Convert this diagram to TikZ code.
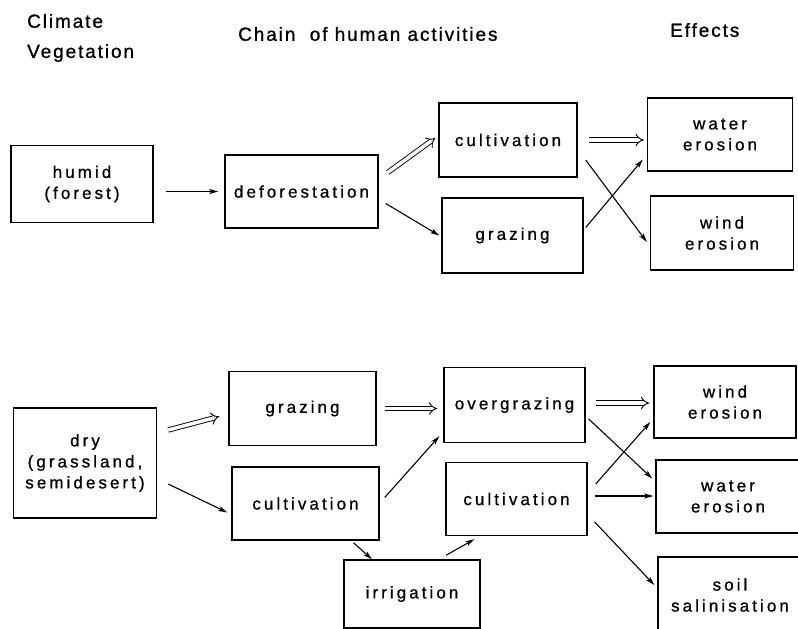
\documentclass[tikz,border=0pt]{standalone}
\usepackage{fontspec}
\usetikzlibrary{arrows.meta}
\newfontfamily\boxfont{Liberation Sans}[LetterSpace=18,FakeBold=0.8]
\newfontfamily\headfont{Liberation Sans}[LetterSpace=10,FakeBold=1]
\begin{document}
\begin{tikzpicture}[x=1pt,y=-1pt]
\tikzstyle{box}=[draw,line width=1.4pt,inner sep=0pt,align=center,minimum height=74pt,font=\boxfont\fontsize{17}{21}\selectfont]
\tikzstyle{head}=[anchor=west,inner sep=0pt,font=\headfont\fontsize{19}{22}\selectfont]
\tikzstyle{arr}=[line width=1.1pt,-{Stealth[length=9pt,width=5pt,inset=2pt]}]
\tikzstyle{dbl}=[double,line width=0.9pt,double distance=3.5pt,-{Implies[length=6pt,width=11pt]}]
\useasboundingbox (0,0) rectangle (798,629);

\path (27,21) node[head](hclim){Climate} (27,53) node[head](hveg){Vegetation}
 (238,34) node[head](hchain){Chain\ \ of human activities} (670,30) node[head](heff){Effects};

\path (82,184) node[box,minimum width=142pt,minimum height=77pt](humid){humid\\(forest)}
 (301.5,191.5) node[box,minimum width=153pt,minimum height=73pt](defor){deforestation}
 (508,140) node[box,minimum width=138pt](cultT){cultivation}
 (512.5,235.5) node[box,minimum width=141pt,minimum height=75pt](grazT){grazing}
 (720,134.5) node[box,minimum width=145pt,minimum height=73pt](waterT){water\\erosion}
 (722,233) node[box,minimum width=143pt](windT){wind\\erosion};

\path (85,463) node[box,minimum width=143pt,minimum height=110pt](dry){dry\\(grassland,\\semidesert)}
 (302.5,408.5) node[box,minimum width=147pt](grazB){grazing}
 (305.5,503.5) node[box,minimum width=147pt,minimum height=73pt](cultB){cultivation}
 (514.5,405) node[box,minimum width=141pt,minimum height=75pt](overg){overgrazing}
 (516.5,499) node[box,minimum width=141pt,minimum height=73pt](cultR){cultivation}
 (412,594) node[box,minimum width=136pt,minimum height=68pt](irrig){irrigation}
 (725,402) node[box,minimum width=142pt,minimum height=72pt](windB){wind\\erosion}
 (728,496.5) node[box,minimum width=144pt,minimum height=73pt](waterB){water\\erosion}
 (730,595) node[box,minimum width=144pt,minimum height=76pt](soil){soil\\salinisation};

\draw[arr,shorten <=12pt,shorten >=6pt] (humid.east |- defor) -- (defor);
\draw[dbl] ([xshift=9pt,yshift=19pt]defor.east) -- ([xshift=-3pt,yshift=2pt]cultT.west);
\draw[arr] ([xshift=7pt,yshift=-12pt]defor.east) -- ([xshift=-2pt]grazT.west);
\draw[dbl,shorten <=11pt,shorten >=3pt] (cultT.east) -- (cultT.east -| waterT.west);
\draw[arr] ([xshift=8pt,yshift=-20pt]cultT.east) -- ([xshift=-3pt,yshift=-9pt]windT.west);
\draw[arr] ([xshift=2pt,yshift=8pt]grazT.east) -- ([xshift=-4pt,yshift=-25pt]waterT.west);

\draw[dbl] ([xshift=11pt,yshift=33pt]dry.east) -- ([xshift=-9pt,yshift=-8pt]grazB.west);
\draw[arr] ([xshift=11pt,yshift=-21pt]dry.east) -- ([xshift=-4pt,yshift=-9pt]cultB.west);
\draw[dbl,shorten <=8pt,shorten >=6pt] (grazB.east) -- (grazB.east -| overg.west);
\draw[arr] ([xshift=5pt,yshift=6pt]cultB.east) -- ([xshift=-4pt,yshift=7pt]overg.south west);
\draw[arr] ([xshift=48pt,yshift=-2pt]cultB.south) -- ([xshift=-40pt]irrig.north);
\draw[arr] ([xshift=34pt,yshift=4pt]irrig.north) -- ([xshift=-42pt,yshift=-3pt]cultR.south);
\draw[dbl,shorten <=10pt,shorten >=4pt] ([yshift=2pt]overg.east) -- ([yshift=2pt]overg.east -| windB.west);
\draw[arr] ([xshift=3pt,yshift=-14pt]overg.east) -- ([xshift=-3pt,yshift=18pt]waterB.west);
\draw[arr] ([xshift=8pt,yshift=15pt]cultR.east) -- ([xshift=-3pt,yshift=-20pt]windB.west);
\draw[arr,shorten <=7pt,shorten >=2pt] ([yshift=3pt]cultR.east) -- ([yshift=3pt]cultR.east -| waterB.west);
\draw[arr] ([xshift=7pt,yshift=-23pt]cultR.east) -- ([xshift=-3pt,yshift=10pt]soil.west);
\end{tikzpicture}
\end{document}
